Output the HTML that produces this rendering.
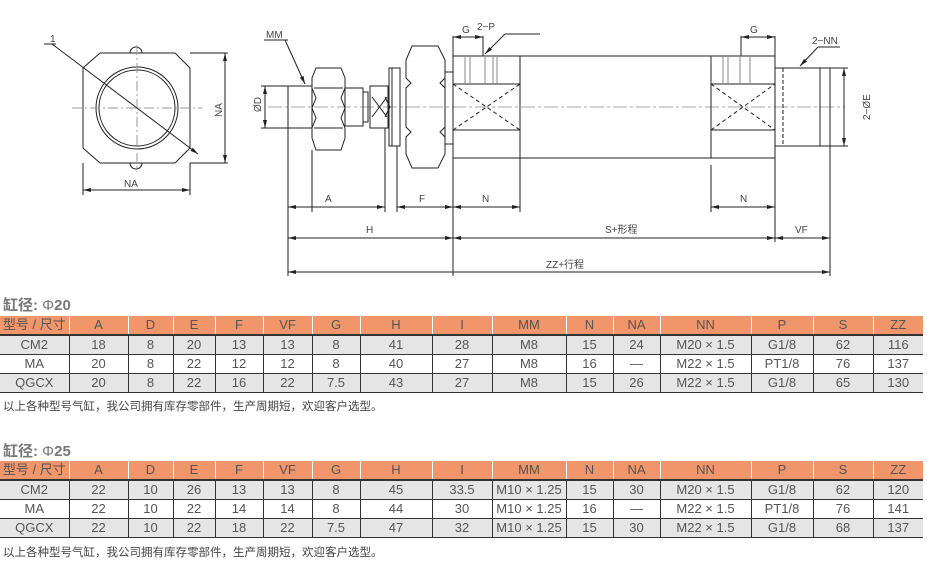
<!DOCTYPE html>
<html><head><meta charset="utf-8"><style>
body{margin:0;width:927px;height:564px;background:#fff;font-family:"Liberation Sans","Noto Sans CJK SC",sans-serif;position:relative;overflow:hidden}
.t{position:absolute;left:0;border-collapse:collapse;table-layout:fixed;font-size:13px;color:#555}
.t td{height:18px;padding:0;text-align:center;border-left:1px solid #333;border-bottom:1px solid #333;white-space:nowrap;line-height:18px}
.t td:first-child{border-left:none}
.t tr.h td{background:#f1956b;border-left:1px solid #fff;border-bottom:2px solid #333;color:#555}
.t tr.h td:first-child{border-left:none}
.t tr.g td{background:#e5e5e5}
.cap{position:absolute;left:3px;font-size:15px;font-weight:bold;color:#777}
.note{position:absolute;left:3px;font-size:11.5px;color:#444}
svg text{font-family:"Liberation Sans","Noto Sans CJK SC",sans-serif;font-size:10px;fill:#444}
</style></head><body>
<svg width="927" height="290" style="position:absolute;left:0;top:0" stroke="#222" fill="none" stroke-width="1">
<defs><marker id="a" markerWidth="8" markerHeight="4" refX="8" refY="2" orient="auto-start-reverse" markerUnits="userSpaceOnUse"><path d="M0,0L8,2L0,4Z" fill="#222" stroke="none"/></marker></defs>
<!-- end view -->
<polygon points="100,53 175,53 190,68 190,148 175,163 100,163 83,148 83,68"/>
<path d="M130,53 a6,6 0 0 1 12,0 M130,163 a6,6 0 0 0 12,0"/>
<circle cx="137" cy="108" r="41"/><circle cx="137" cy="108" r="38"/>
<line x1="72" y1="108" x2="202" y2="108" stroke="#999" stroke-dasharray="10,3,2,3"/>
<line x1="137" y1="45" x2="137" y2="172" stroke="#999" stroke-dasharray="10,3,2,3"/>
<line x1="52" y1="44" x2="198" y2="154" marker-end="url(#a)"/><line x1="44" y1="44" x2="56" y2="44"/>
<text x="50" y="42" stroke="none">1</text>
<line x1="190" y1="53" x2="228" y2="53"/><line x1="190" y1="163" x2="228" y2="163"/>
<line x1="225" y1="53" x2="225" y2="163" marker-start="url(#a)" marker-end="url(#a)"/>
<text x="0" y="0" stroke="none" transform="translate(222,117) rotate(-90)">NA</text>
<line x1="83" y1="163" x2="83" y2="195"/><line x1="190" y1="163" x2="190" y2="195"/>
<line x1="83" y1="190" x2="190" y2="190" marker-start="url(#a)" marker-end="url(#a)"/>
<text x="131" y="187" stroke="none" text-anchor="middle">NA</text>
<!-- side view -->
<line x1="268" y1="107" x2="845" y2="107" stroke="#aaa" stroke-dasharray="14,3,3,3"/>
<rect x="288" y="86" width="24" height="42"/>
<path d="M316,68 L341,68 L345,78 L345,88 L341,98 L345,108 L341,118 L345,128 L345,138 L341,150 L316,150 L312,138 L312,128 L316,118 L312,108 L316,98 L312,88 L312,78 Z"/>
<line x1="314" y1="88" x2="343" y2="88"/><line x1="314" y1="128" x2="343" y2="128"/>
<rect x="345" y="88" width="18" height="38"/>
<rect x="363" y="92" width="5" height="30"/>
<rect x="370" y="86" width="18" height="42"/>
<path d="M372,97 L387,117 M372,117 L387,97 M385,97 L390,107 L385,117"/>
<rect x="389" y="68" width="11" height="78"/><line x1="392" y1="68" x2="392" y2="146"/>
<path d="M412,46 L438,46 L445,60 L445,78 L440,83 L445,88 L445,127 L440,132 L445,137 L445,154 L438,168 L412,168 L406,154 L406,137 L411,132 L406,127 L406,88 L411,83 L406,78 L406,60 Z"/>
<rect x="445" y="72" width="8" height="72"/>
<rect x="453" y="56" width="322" height="102"/>
<line x1="520" y1="56" x2="520" y2="158"/><line x1="711" y1="56" x2="711" y2="158"/>
<rect x="453" y="84" width="67" height="46"/><rect x="711" y="84" width="64" height="46"/>
<path d="M453,84 L520,130 M453,130 L520,84 M711,84 L775,130 M711,130 L775,84" stroke-dasharray="4,3"/>
<path d="M465,56V84 M470,56V84 M485,56V84 M493,56V84 M497,56V84 M723,56V84 M728,56V84 M740,56V84 M750,56V84" stroke="#888"/>
<rect x="775" y="68" width="55" height="78"/><line x1="820" y1="68" x2="820" y2="146"/><line x1="783" y1="68" x2="783" y2="146" stroke-dasharray="4,2"/>
<!-- top labels -->
<line x1="264" y1="40" x2="288" y2="40"/><line x1="285" y1="40" x2="305" y2="84" marker-end="url(#a)"/><text x="266" y="38" stroke="none">MM</text>
<line x1="453" y1="36" x2="453" y2="56"/><line x1="453" y1="37" x2="483" y2="37" marker-start="url(#a)" marker-end="url(#a)"/><line x1="483" y1="36" x2="483" y2="56"/><text x="462" y="33" stroke="none">G</text>
<line x1="505" y1="34" x2="485" y2="54" marker-end="url(#a)"/><line x1="505" y1="34" x2="540" y2="34"/><text x="477" y="30" stroke="none">2−P</text>
<line x1="741" y1="36" x2="741" y2="56"/><line x1="741" y1="37" x2="775" y2="37" marker-start="url(#a)" marker-end="url(#a)"/><line x1="775" y1="36" x2="775" y2="56"/><text x="750" y="33" stroke="none">G</text>
<line x1="818" y1="47" x2="800" y2="66" marker-end="url(#a)"/><line x1="818" y1="47" x2="840" y2="47"/><text x="812" y="44" stroke="none">2−NN</text>
<line x1="261" y1="86" x2="288" y2="86"/><line x1="261" y1="128" x2="288" y2="128"/><line x1="265" y1="86" x2="265" y2="128" marker-start="url(#a)" marker-end="url(#a)"/>
<text stroke="none" transform="translate(261,112) rotate(-90)">ØD</text>
<line x1="830" y1="68" x2="848" y2="68"/><line x1="830" y1="146" x2="848" y2="146"/><line x1="844" y1="68" x2="844" y2="146" marker-start="url(#a)" marker-end="url(#a)"/>
<text stroke="none" transform="translate(870,120) rotate(-90)">2−ØE</text>
<!-- extension lines -->
<path d="M288,128V276 M312,150V212 M385,128V212 M397,146V212 M453,158V276 M520,158V212 M711,165V212 M775,158V242 M830,146V276"/>
<!-- dimensions -->
<g marker-start="url(#a)" marker-end="url(#a)">
<line x1="288" y1="207" x2="385" y2="207"/><line x1="397" y1="207" x2="453" y2="207"/><line x1="453" y1="207" x2="520" y2="207"/><line x1="711" y1="207" x2="775" y2="207"/>
<line x1="288" y1="238" x2="453" y2="238"/><line x1="453" y1="238" x2="775" y2="238"/><line x1="775" y1="238" x2="830" y2="238"/><line x1="288" y1="272" x2="830" y2="272"/>
</g>
<text x="325" y="202" stroke="none">A</text><text x="419" y="202" stroke="none">F</text><text x="482" y="202" stroke="none">N</text><text x="740" y="202" stroke="none">N</text>
<text x="366" y="233" stroke="none">H</text><text x="605" y="233" stroke="none">S+形程</text><text x="795" y="233" stroke="none">VF</text><text x="546" y="268" stroke="none">ZZ+行程</text>
</svg>

<div class="cap" style="top:294px">缸径: <span style="font-weight:normal">Φ</span>20</div>
<table class="t" style="top:316px;width:923px">
<colgroup><col style="width:69px"><col style="width:59px"><col style="width:45px"><col style="width:42px"><col style="width:48px"><col style="width:49px"><col style="width:48px"><col style="width:72px"><col style="width:60px"><col style="width:74px"><col style="width:47px"><col style="width:47px"><col style="width:91px"><col style="width:62px"><col style="width:60px"><col style="width:50px"></colgroup>
<tr class="h"><td>型号 / 尺寸</td><td>A</td><td>D</td><td>E</td><td>F</td><td>VF</td><td>G</td><td>H</td><td>I</td><td>MM</td><td>N</td><td>NA</td><td>NN</td><td>P</td><td>S</td><td>ZZ</td></tr>
<tr class="g"><td>CM2</td><td>18</td><td>8</td><td>20</td><td>13</td><td>13</td><td>8</td><td>41</td><td>28</td><td>M8</td><td>15</td><td>24</td><td>M20 × 1.5</td><td>G1/8</td><td>62</td><td>116</td></tr>
<tr><td>MA</td><td>20</td><td>8</td><td>22</td><td>12</td><td>12</td><td>8</td><td>40</td><td>27</td><td>M8</td><td>16</td><td>—</td><td>M22 × 1.5</td><td>PT1/8</td><td>76</td><td>137</td></tr>
<tr class="g"><td>QGCX</td><td>20</td><td>8</td><td>22</td><td>16</td><td>22</td><td>7.5</td><td>43</td><td>27</td><td>M8</td><td>15</td><td>26</td><td>M22 × 1.5</td><td>G1/8</td><td>65</td><td>130</td></tr>
</table>
<div class="note" style="top:398px">以上各种型号气缸，我公司拥有库存零部件，生产周期短，欢迎客户选型。</div>

<div class="cap" style="top:440px">缸径: <span style="font-weight:normal">Φ</span>25</div>
<table class="t" style="top:461px;width:923px">
<colgroup><col style="width:69px"><col style="width:59px"><col style="width:45px"><col style="width:42px"><col style="width:48px"><col style="width:49px"><col style="width:48px"><col style="width:72px"><col style="width:60px"><col style="width:74px"><col style="width:47px"><col style="width:47px"><col style="width:91px"><col style="width:62px"><col style="width:60px"><col style="width:50px"></colgroup>
<tr class="h"><td>型号 / 尺寸</td><td>A</td><td>D</td><td>E</td><td>F</td><td>VF</td><td>G</td><td>H</td><td>I</td><td>MM</td><td>N</td><td>NA</td><td>NN</td><td>P</td><td>S</td><td>ZZ</td></tr>
<tr class="g"><td>CM2</td><td>22</td><td>10</td><td>26</td><td>13</td><td>13</td><td>8</td><td>45</td><td>33.5</td><td>M10 × 1.25</td><td>15</td><td>30</td><td>M20 × 1.5</td><td>G1/8</td><td>62</td><td>120</td></tr>
<tr><td>MA</td><td>22</td><td>10</td><td>22</td><td>14</td><td>14</td><td>8</td><td>44</td><td>30</td><td>M10 × 1.25</td><td>16</td><td>—</td><td>M22 × 1.5</td><td>PT1/8</td><td>76</td><td>141</td></tr>
<tr class="g"><td>QGCX</td><td>22</td><td>10</td><td>22</td><td>18</td><td>22</td><td>7.5</td><td>47</td><td>32</td><td>M10 × 1.25</td><td>15</td><td>30</td><td>M22 × 1.5</td><td>G1/8</td><td>68</td><td>137</td></tr>
</table>
<div class="note" style="top:544px">以上各种型号气缸，我公司拥有库存零部件，生产周期短，欢迎客户选型。</div>
</body></html>
